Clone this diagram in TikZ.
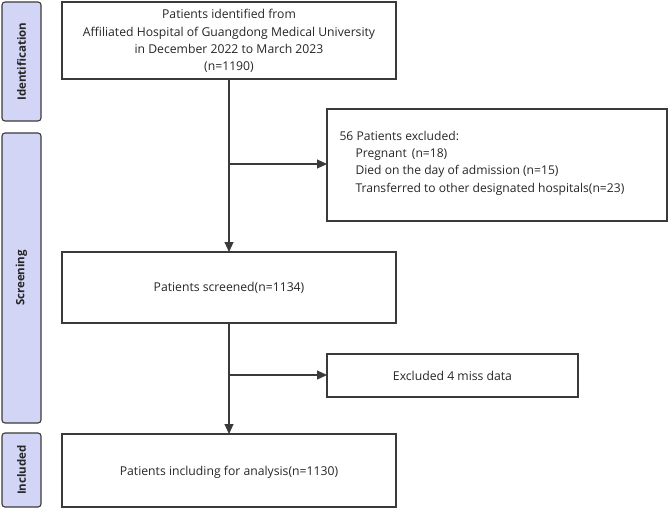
\documentclass[tikz,border=0pt]{standalone}
\usepackage{fontspec}
\setmainfont{Open Sans}
\usetikzlibrary{arrows.meta}
\definecolor{sidefill}{HTML}{D2D5F6}
\definecolor{edge}{HTML}{3A3A3A}
\tikzset{
  side/.style={draw=edge, line width=1.1pt, fill=sidefill, rounded corners=3pt},
  sidelabel/.style={rotate=90, font=\fontsize{11.5}{13}\selectfont\bfseries, text=black!85},
  mainbox/.style={draw=edge, line width=1.1pt},
  txt/.style={font=\fontsize{12.2}{17.4}\selectfont, text=black!85, align=center},
  conn/.style={draw=edge, line width=1.1pt},
  arr/.style={conn, -{Triangle[length=10pt,width=9pt]}}
}
\begin{document}
\begin{tikzpicture}[x=1pt,y=-1pt]
\useasboundingbox (0,0) rectangle (669,509);
% side bars
\draw[side] (2,2) rectangle (41,121);
\node[sidelabel] (sid) at (21.5,61.5) {Identification};
\draw[side] (2,133) rectangle (41,423);
\node[sidelabel] (ssc) at (21.5,278) {Screening};
\draw[side] (2,433) rectangle (41,507);
\node[sidelabel] (sin) at (21.5,470) {Included};
% main boxes
\draw[mainbox] (62,2) rectangle (396,79);
\node[txt] (b1) at (229,41) {Patients identified from\\Affiliated Hospital of Guangdong Medical University\\in December 2022 to March 2023\\(n=1190)};
\draw[mainbox] (327,109) rectangle (667,221);
\node[txt, font=\fontsize{12.1}{17.4}\selectfont, align=left, anchor=west] (e1) at (336,163) {56 Patients excluded:\\\hspace{16pt}Pregnant\ \,(n=18)\\\hspace{16pt}Died on the day of admission (n=15)\\\hspace{16pt}Transferred to other designated hospitals(n=23)};
\draw[mainbox] (62,252) rectangle (396,323);
\node[txt] (b2) at (229,288) {Patients screened(n=1134)};
\draw[mainbox] (327,354) rectangle (578,397);
\node[txt] (e2) at (452.5,376) {Excluded 4 miss data};
\draw[mainbox] (62,434) rectangle (396,507);
\node[txt] (b3) at (229,472) {Patients including for analysis(n=1130)};
% connectors
\coordinate (t1) at (229,79);
\coordinate (t2) at (229,252);
\coordinate (j1) at (229,164);
\coordinate (h1) at (327,164);
\coordinate (t3) at (229,323);
\coordinate (t4) at (229,434);
\coordinate (j2) at (229,375);
\coordinate (h2) at (327,375);
\draw[arr] (t1) -- (t2);
\draw[arr] (j1) -- (h1);
\draw[arr] (t3) -- (t4);
\draw[arr] (j2) -- (h2);
\end{tikzpicture}
\end{document}
